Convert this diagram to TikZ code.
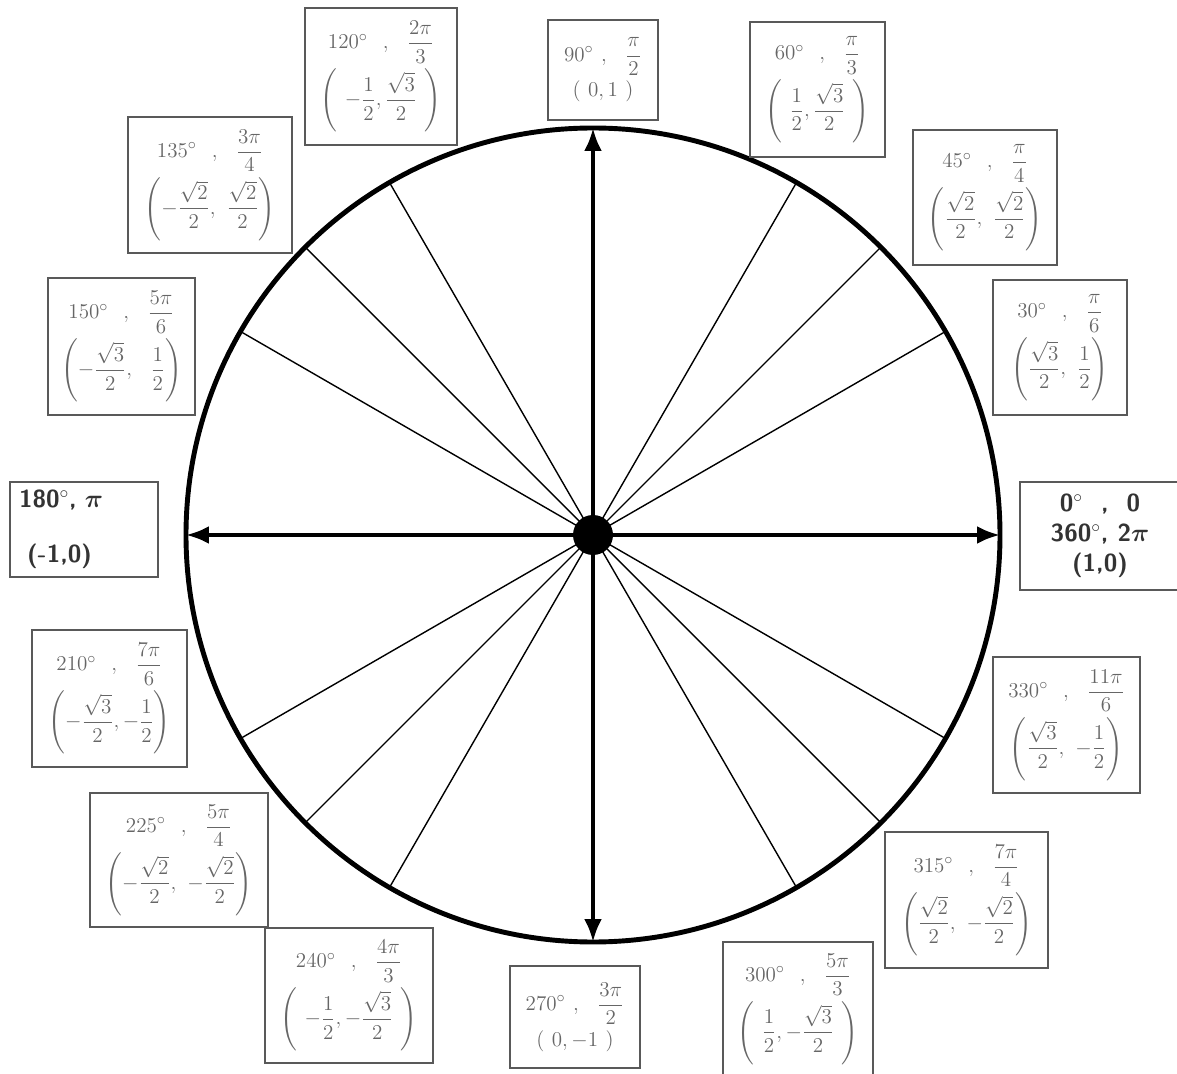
\documentclass[tikz,border=0pt]{standalone}
\usepackage{amsmath}
\usetikzlibrary{arrows.meta,calc}

\tikzset{
  anglebox/.style={draw=black!65, line width=1.1pt, text=black!60,
    font=\fontsize{13}{15.5}\selectfont, align=center, inner sep=2pt},
  boldbox/.style={anglebox, text=black!80, font=\fontsize{14}{17}\selectfont\sffamily\bfseries},
  boxsize/.style 2 args={minimum width=#1*0.02cm, minimum height=#2*0.02cm},
  spoke/.style={line width=0.8pt},
  axis/.style={line width=2.3pt, {Latex[length=0.46cm,width=0.36cm]}-{Latex[length=0.46cm,width=0.36cm]}},
}

\begin{document}
\begin{tikzpicture}[x=0.02cm,y=0.02cm]
  \useasboundingbox (0,0) rectangle (1177,1073);

  \coordinate (o) at (593,538);
  \foreach \a in {0,90,180,270} {
    \coordinate (p\a) at ($(o)+(\a:407)$);
  }

  % spokes of the unit circle
  \foreach \a in {30,45,60,120,135,150,210,225,240,300,315,330} {
    \draw[spoke] (o) -- ++(\a:407);
  }
  \draw[line width=2.8pt] (o) circle[radius=407];
  \draw[axis] (p180) -- (p0);
  \draw[axis] (p270) -- (p90);
  \fill (o) circle[radius=20];

  % first quadrant
  \node[anglebox, boxsize={110}{100}] (b90) at (603,1003)
    {$90^\circ\ ,\ \ \dfrac{\pi}{2}$\\[2pt] $(\ 0, 1\ )$};
  \node[anglebox, boxsize={135}{135}] (b60) at (817.5,983.5)
    {$60^\circ\ \ ,\ \ \dfrac{\pi}{3}$\\[2pt] $\left(\ \dfrac{1}{2},\dfrac{\sqrt{3}}{2}\ \right)$};
  \node[anglebox, boxsize={144}{135}] (b45) at (985,875.5)
    {$45^\circ\ \ ,\ \ \dfrac{\pi}{4}$\\[2pt] $\left(\dfrac{\sqrt{2}}{2},\ \dfrac{\sqrt{2}}{2}\right)$};
  \node[anglebox, boxsize={134}{135}] (b30) at (1060,725.5)
    {$30^\circ\ \ ,\ \ \dfrac{\pi}{6}$\\[2pt] $\left(\dfrac{\sqrt{3}}{2},\ \dfrac{1}{2}\right)$};
  \node[boldbox, boxsize={160}{108}] (b0) at (1100,537)
    {0$^\circ$\ \ ,\ \ 0\\ 360$^\circ$, 2$\boldsymbol{\pi}$\\ (1,0)};

  % fourth quadrant
  \node[anglebox, boxsize={147}{136}] (b330) at (1066.5,348)
    {$330^\circ\ \ ,\ \ \dfrac{11\pi}{6}$\\[2pt] $\left(\dfrac{\sqrt{3}}{2},\ -\dfrac{1}{2}\right)$};
  \node[anglebox, boxsize={163}{136}] (b315) at (966.5,173)
    {$315^\circ\ \ ,\ \ \dfrac{7\pi}{4}$\\[2pt] $\left(\dfrac{\sqrt{2}}{2},\ -\dfrac{\sqrt{2}}{2}\right)$};
  \node[anglebox, boxsize={150}{134}] (b300) at (798,64)
    {$300^\circ\ \ ,\ \ \dfrac{5\pi}{3}$\\[2pt] $\left(\ \dfrac{1}{2},-\dfrac{\sqrt{3}}{2}\ \right)$};
  \node[anglebox, boxsize={130}{102}] (b270) at (575,56)
    {$270^\circ\ ,\ \ \dfrac{3\pi}{2}$\\[2pt] $(\ 0, -1\ )$};

  % third quadrant
  \node[anglebox, boxsize={168}{135}] (b240) at (349,77.5)
    {$240^\circ\ \ ,\ \ \dfrac{4\pi}{3}$\\[2pt] $\left(\ -\dfrac{1}{2},-\dfrac{\sqrt{3}}{2}\ \right)$};
  \node[anglebox, boxsize={178}{134}] (b225) at (179,213)
    {$225^\circ\ \ ,\ \ \dfrac{5\pi}{4}$\\[2pt] $\left(-\dfrac{\sqrt{2}}{2},\ -\dfrac{\sqrt{2}}{2}\right)$};
  \node[anglebox, boxsize={155}{137}] (b210) at (109.5,374.5)
    {$210^\circ\ \ ,\ \ \dfrac{7\pi}{6}$\\[2pt] $\left(-\dfrac{\sqrt{3}}{2},-\dfrac{1}{2}\right)$};
  \node[boldbox, boxsize={148}{95}, align=left, text width=130*0.02cm] (b180) at (84,543.5)
    {180$^\circ$, $\boldsymbol{\pi}$\\[14pt] \ (-1,0)};

  % second quadrant
  \node[anglebox, boxsize={147}{137}] (b150) at (121.5,726.5)
    {$150^\circ\ \ ,\ \ \dfrac{5\pi}{6}$\\[2pt] $\left(-\dfrac{\sqrt{3}}{2},\ \ \dfrac{1}{2}\right)$};
  \node[anglebox, boxsize={164}{136}] (b135) at (210,888)
    {$135^\circ\ \ ,\ \ \dfrac{3\pi}{4}$\\[2pt] $\left(-\dfrac{\sqrt{2}}{2},\ \dfrac{\sqrt{2}}{2}\right)$};
  \node[anglebox, boxsize={152}{137}] (b120) at (381,996.5)
    {$120^\circ\ \ ,\ \ \dfrac{2\pi}{3}$\\[2pt] $\left(\ -\dfrac{1}{2},\dfrac{\sqrt{3}}{2}\ \right)$};
\end{tikzpicture}
\end{document}
